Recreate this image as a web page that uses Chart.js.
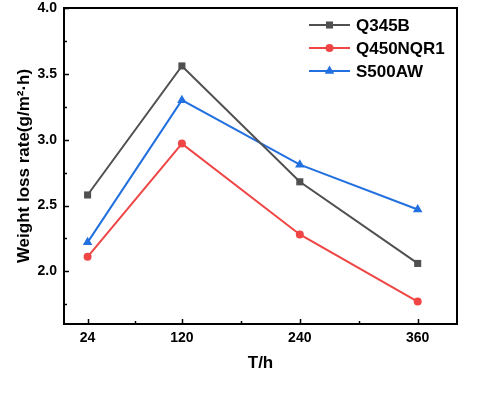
<!DOCTYPE html>
<html>
<head>
<meta charset="utf-8">
<script src="https://cdn.jsdelivr.net/npm/chart.js@4"></script>
<style>
  html, body { margin: 0; padding: 0; background: #fff; }
</style>
</head>
<body>
<canvas id="lossChart" width="479" height="394"></canvas>
<script>
// data
const hours = [24, 120, 240, 360];
const q345b = [2.58, 3.56, 2.68, 2.06];
const q450nqr1 = [2.11, 2.97, 2.28, 1.77];
const s500aw = [2.22, 3.30, 2.81, 2.47];
const xTicks = [24, 120, 240, 360];
const xMinor = [72, 180, 300];
const yTicks = [2.0, 2.5, 3.0, 3.5, 4.0];
const yMinor = [1.75, 2.25, 2.75, 3.25, 3.75];

const FONT = 'Arial, "Liberation Sans", sans-serif';

function toPoints(ys) {
    return hours.map((h, i) => ({ x: h, y: ys[i] }));
}

// frame + inward ticks like the Origin plot
const framePlugin = {
    id: 'frame',
    afterDatasetsDraw(chart) {
        const { ctx, chartArea: a, scales: { x, y } } = chart;
        ctx.save();
        ctx.strokeStyle = '#000';
        ctx.lineWidth = 2;
        ctx.strokeRect(a.left, a.top, a.right - a.left, a.bottom - a.top);
        ctx.lineWidth = 1.5;
        ctx.beginPath();
        xTicks.forEach(v => { const px = Math.round(x.getPixelForValue(v)) + 0.5; ctx.moveTo(px, a.bottom); ctx.lineTo(px, a.bottom - 5); });
        xMinor.forEach(v => { const px = Math.round(x.getPixelForValue(v)) + 0.5; ctx.moveTo(px, a.bottom); ctx.lineTo(px, a.bottom - 3); });
        yTicks.forEach(v => { const py = Math.round(y.getPixelForValue(v)) + 0.5; ctx.moveTo(a.left, py); ctx.lineTo(a.left + 5, py); });
        yMinor.forEach(v => { const py = Math.round(y.getPixelForValue(v)) + 0.5; ctx.moveTo(a.left, py); ctx.lineTo(a.left + 3, py); });
        ctx.stroke();
        ctx.restore();
    }
};

// legend with line + marker samples, inside the plot top right
const legendPlugin = {
    id: 'lineLegend',
    afterDraw(chart) {
        const { ctx } = chart;
        const x0 = 309, x1 = 350, y0 = 25, gap = 23;
        ctx.save();
        chart.data.datasets.forEach((ds, i) => {
            const yy = y0 + i * gap;
            ctx.strokeStyle = ds.borderColor;
            ctx.lineWidth = 2;
            ctx.beginPath();
            ctx.moveTo(x0, yy);
            ctx.lineTo(x1, yy);
            ctx.stroke();
            ctx.fillStyle = ds.pointBackgroundColor;
            ctx.strokeStyle = ds.pointBackgroundColor;
            Chart.helpers.drawPoint(ctx, {
                pointStyle: ds.pointStyle,
                radius: ds.pointRadius,
                rotation: 0,
                borderWidth: 0
            }, (x0 + x1) / 2, yy);
            ctx.fillStyle = '#000';
            ctx.font = 'bold 17px "Liberation Sans", Arial, sans-serif';
            ctx.textBaseline = 'middle';
            ctx.fillText(ds.label, 356, yy + 1);
        });
        ctx.restore();
    }
};

function series(label, data, color, style, radius) {
    return {
        label: label,
        data: toPoints(data),
        borderColor: color,
        backgroundColor: color,
        pointBackgroundColor: color,
        pointBorderColor: color,
        pointBorderWidth: 0,
        pointStyle: style,
        pointRadius: radius,
        borderWidth: 2,
        tension: 0
    };
}

new Chart(document.getElementById('lossChart'), {
    type: 'line',
    data: {
        datasets: [
            series('Q345B', q345b, '#505050', 'rect', 5),
            series('Q450NQR1', q450nqr1, '#f04545', 'circle', 4),
            series('S500AW', s500aw, '#2270e0', 'triangle', 5.5)
        ]
    },
    options: {
        responsive: false,
        animation: false,
        devicePixelRatio: 1,
        layout: { padding: { left: 0, top: 8, right: 22, bottom: 0 } },
        plugins: {
            legend: { display: false },
            tooltip: { enabled: false }
        },
        scales: {
            x: {
                type: 'linear',
                min: 0,
                max: 400,
                grid: { display: false, drawTicks: false },
                border: { display: false },
                afterBuildTicks: s => { s.ticks = xTicks.map(v => ({ value: v })); },
                afterFit: s => { s.height = 70; s.paddingLeft = 0; s.paddingRight = 0; },
                ticks: {
                    color: '#000',
                    padding: 6,
                    maxRotation: 0,
                    font: { family: FONT, size: 14, weight: 'bold' }
                },
                title: {
                    display: true,
                    text: 'T/h',
                    color: '#000',
                    padding: { top: 0, bottom: 20 },
                    font: { family: FONT, size: 17, weight: 'bold' }
                }
            },
            y: {
                min: 1.6,
                max: 4.0,
                grid: { display: false, drawTicks: false },
                border: { display: false },
                afterBuildTicks: s => { s.ticks = yTicks.map(v => ({ value: v })); },
                afterFit: s => { s.width = 64; s.paddingTop = 0; s.paddingBottom = 0; },
                ticks: {
                    color: '#000',
                    padding: 7,
                    font: { family: FONT, size: 14, weight: 'bold' },
                    callback: v => Number(v).toFixed(1)
                },
                title: {
                    display: true,
                    text: 'Weight loss rate(g/m²·h)',
                    color: '#000',
                    padding: { top: 14, bottom: 0 },
                    font: { family: FONT, size: 17, weight: 'bold' }
                }
            }
        }
    },
    plugins: [framePlugin, legendPlugin]
});
</script>
</body>
</html>
